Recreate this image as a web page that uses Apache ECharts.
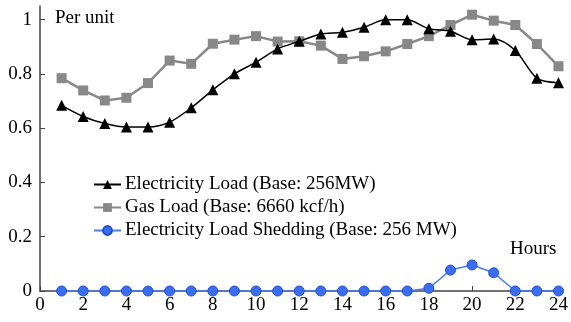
<!DOCTYPE html>
<html><head><meta charset="utf-8">
<script src="https://cdn.jsdelivr.net/npm/echarts@6/dist/echarts.min.js"></script>
<style>html,body{margin:0;padding:0;background:#fff}#c{width:571px;height:322px}</style>
</head><body><div id="c"></div>
<script>
const hours = [1,2,3,4,5,6,7,8,9,10,11,12,13,14,15,16,17,18,19,20,21,22,23,24];
const elecLoad = [0.684,0.643,0.617,0.604,0.604,0.622,0.675,0.741,0.800,0.843,0.892,0.920,0.947,0.953,0.972,0.999,0.999,0.966,0.957,0.926,0.928,0.886,0.784,0.767];
const gasLoad = [0.784,0.739,0.702,0.712,0.766,0.849,0.837,0.911,0.926,0.939,0.919,0.920,0.904,0.855,0.865,0.883,0.910,0.939,0.980,1.018,0.996,0.980,0.910,0.828];
const shedding = [0,0,0,0,0,0,0,0,0,0,0,0,0,0,0,0,0,0.01,0.077,0.096,0.067,0,0,0];
const yTicks = [0,0.2,0.4,0.6,0.8,1];
const seriesNames = ['Electricity Load (Base: 256MW)','Gas Load (Base: 6660 kcf/h)','Electricity Load Shedding (Base: 256 MW)'];

const font = "Liberation Serif";
const pair = a => a.map((v,i)=>[hours[i],v]);
const chart = echarts.init(document.getElementById('c'));
chart.setOption({
  animation:false,
  textStyle:{fontFamily:font,fontSize:19,color:'#000'},
  grid:{left:40,right:11,top:6,bottom:31},
  xAxis:{type:'value',min:0,max:24,interval:2,
    axisLine:{lineStyle:{color:'#444',width:1.5}},
    axisTick:{inside:true,length:5,lineStyle:{color:'#444'}},
    axisLabel:{color:'#000',fontFamily:font,fontSize:19,margin:5},
    splitLine:{show:false}},
  yAxis:{type:'value',min:0,max:1.05,
    axisLine:{show:true,lineStyle:{color:'#444',width:1.5}},
    axisTick:{show:true,inside:true,length:5,lineStyle:{color:'#444'},customValues:yTicks},
    axisLabel:{color:'#000',fontFamily:font,fontSize:19,margin:8,customValues:yTicks},
    splitLine:{show:false}},
  legend:{orient:'vertical',left:93,top:175,padding:0,itemGap:4,itemWidth:27,itemHeight:11,
    textStyle:{fontFamily:font,fontSize:19,color:'#000',padding:[0,0,0,-1]},
    data:seriesNames},
  graphic:[
    {type:'text',left:55,top:9,style:{text:'Per unit',font:'19px '+font,fill:'#000'}},
    {type:'text',left:510,top:240,style:{text:'Hours',font:'19px '+font,fill:'#000'}}
  ],
  series:[
    {name:seriesNames[0],type:'line',data:pair(elecLoad),smooth:0.3,symbol:'triangle',symbolSize:11,
      lineStyle:{color:'#000',width:1.5},itemStyle:{color:'#000'},z:3},
    {name:seriesNames[1],type:'line',data:pair(gasLoad),symbol:'rect',symbolSize:10,
      lineStyle:{color:'#888',width:2.5},itemStyle:{color:'#888'},z:2},
    {name:seriesNames[2],type:'line',data:pair(shedding),symbol:'circle',symbolSize:10,
      lineStyle:{color:'#4a7cf5',width:1.5},itemStyle:{color:'#3a6df0',borderColor:'#1f4fcc',borderWidth:1},z:4}
  ]
});
</script></body></html>
